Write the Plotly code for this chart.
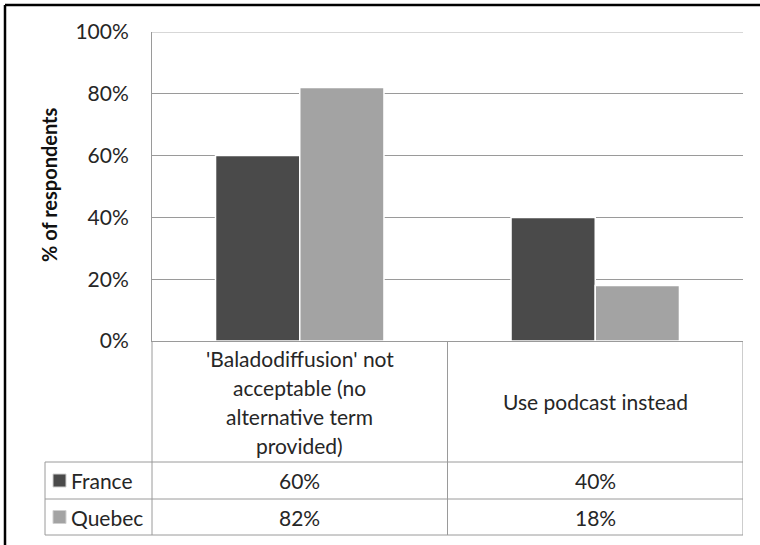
import plotly.graph_objects as go

# Survey results: share of respondents per answer, by region
categories = [
    ["'Baladodiffusion' not", "acceptable (no", "alternative term", "provided)"],
    ["Use podcast instead"],
]
series_names = ["France", "Quebec"]
france = [60, 40]
quebec = [82, 18]
y_ticks = [0, 20, 40, 60, 80, 100]

W, H = 760, 545
FONT = "Lato"
TEXT = "#262626"
GRID = "#9a9a9a"
FS = 21
colors = ["#4a4a4a", "#a3a3a3"]

def px(x):
    return x / W

def py(y):
    return 1 - y / H

# plot-area and table geometry in pixels
left, right = 152, 743
top, bottom = 32, 341
table_left = 45
row_lines = [462, 499, 535]

x_pos = list(range(len(categories)))

fig = go.Figure()
for name, vals, col in zip(series_names, [france, quebec], colors):
    fig.add_trace(go.Bar(
        x=x_pos, y=vals, name=name,
        marker=dict(color=col, line=dict(color="white", width=1.5)),
        hoverinfo="skip",
    ))

fig.update_layout(
    width=W, height=H,
    margin=dict(l=0, r=0, t=0, b=0, autoexpand=False),
    paper_bgcolor="white", plot_bgcolor="white",
    barmode="group", bargap=0.43, bargroupgap=0,
    showlegend=False,
    font=dict(family=FONT, color=TEXT, size=FS),
    xaxis=dict(
        domain=[px(left), px(right)], range=[-0.5, len(categories) - 0.5],
        showticklabels=False, showgrid=False, zeroline=False, automargin=False,
        showline=True, linecolor=GRID, linewidth=1, fixedrange=True,
    ),
    yaxis=dict(
        domain=[py(bottom), py(top)], range=[0, y_ticks[-1]],
        tickvals=y_ticks, ticktext=[f"{v}%" for v in y_ticks],
        showgrid=True, gridcolor=GRID, gridwidth=1, zeroline=False, automargin=False,
        showline=True, linecolor=GRID, linewidth=1,
        ticks="", ticklabelstandoff=18,
        tickfont=dict(family=FONT, size=FS, color=TEXT), fixedrange=True,
    ),
)

shapes = []
# outer frame (top and left edges)
shapes.append(dict(type="line", xref="paper", yref="paper", x0=px(5), x1=px(W + 10), y0=py(5), y1=py(5), line=dict(color="black", width=2.5)))
shapes.append(dict(type="line", xref="paper", yref="paper", x0=px(5), x1=px(5), y0=py(5), y1=py(H + 10), line=dict(color="black", width=2.5)))

# gridline at the top of the value axis
shapes.append(dict(type="line", xref="x domain", yref="y", x0=0, x1=1, y0=y_ticks[-1], y1=y_ticks[-1], line=dict(color="#b0b0b0", width=1), layer="below"))

# data table grid
for yl in row_lines:
    shapes.append(dict(type="line", xref="paper", yref="paper", x0=px(table_left), x1=px(right), y0=py(yl), y1=py(yl), line=dict(color=GRID, width=1)))
shapes.append(dict(type="line", xref="paper", yref="paper", x0=px(table_left), x1=px(table_left), y0=py(row_lines[0]), y1=py(row_lines[-1]), line=dict(color=GRID, width=1)))
shapes.append(dict(type="line", xref="paper", yref="paper", x0=px(left), x1=px(left), y0=py(bottom), y1=py(row_lines[-1]), line=dict(color=GRID, width=1)))
for i in range(len(categories)):
    xb = i + 0.5
    shapes.append(dict(type="line", xref="x", yref="paper", x0=xb, x1=xb, y0=py(bottom), y1=py(row_lines[-1]), line=dict(color=GRID, width=1)))

annotations = []
# y-axis title
annotations.append(dict(text="<b>% of respondents</b>", xref="paper", yref="paper", x=px(49), y=py(185),
                        textangle=-90, showarrow=False, font=dict(family=FONT, size=20, color="#111111"),
                        xanchor="center", yanchor="middle"))

# category labels in the header row of the table
header_mid = (bottom + row_lines[0]) / 2
line_step = 29
for i, lines in enumerate(categories):
    n = len(lines)
    for k, ln in enumerate(lines):
        yc = header_mid + (k - (n - 1) / 2) * line_step
        annotations.append(dict(text=ln, xref="x", yref="paper", x=i, y=py(yc), showarrow=False,
                                xanchor="center", yanchor="middle", font=dict(size=FS)))

# legend keys, series names and values in the data rows
for r, (name, vals, col) in enumerate(zip(series_names, [france, quebec], colors)):
    y0, y1 = row_lines[r], row_lines[r + 1]
    yc = (y0 + y1) / 2
    shapes.append(dict(type="rect", xref="paper", yref="paper", x0=px(53), x1=px(66), y0=py(yc - 6.5), y1=py(yc + 6.5),
                       fillcolor=col, line=dict(color="#d0d0d0", width=1)))
    annotations.append(dict(text=name, xref="paper", yref="paper", x=px(69), y=py(yc), showarrow=False,
                            xanchor="left", yanchor="middle", font=dict(size=FS)))
    for i, v in enumerate(vals):
        annotations.append(dict(text=f"{v}%", xref="x", yref="paper", x=i, y=py(yc), showarrow=False,
                                xanchor="center", yanchor="middle", font=dict(size=FS)))

fig.update_layout(shapes=shapes, annotations=annotations)
fig.write_html("out.html", config={"displayModeBar": False})
